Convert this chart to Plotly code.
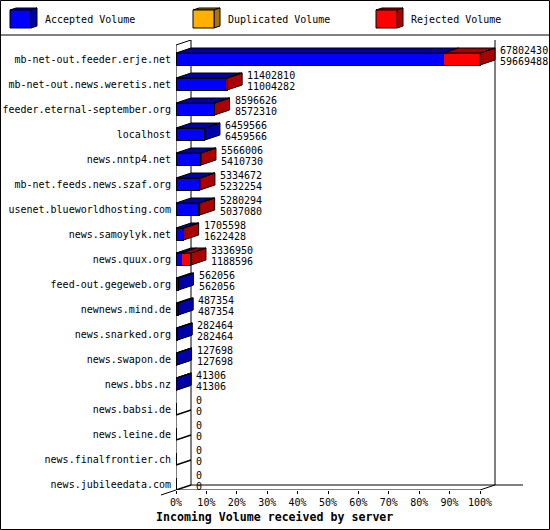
# Incoming volume per server, drawn as a fake 3D stacked bar chart.

import plotly.graph_objects as go

# %%
# Data

servers = [
    "mb-net-out.feeder.erje.net", "mb-net-out.news.weretis.net",
    "feeder.eternal-september.org", "localhost", "news.nntp4.net",
    "mb-net.feeds.news.szaf.org", "usenet.blueworldhosting.com",
    "news.samoylyk.net", "news.quux.org", "feed-out.gegeweb.org",
    "newnews.mind.de", "news.snarked.org", "news.swapon.de", "news.bbs.nz",
    "news.babsi.de", "news.leine.de", "news.finalfrontier.ch",
    "news.jubileedata.com",
]
offered = [
    67802430, 11402810, 8596626, 6459566, 5566006, 5334672, 5280294, 1705598,
    3336950, 562056, 487354, 282464, 127698, 41306, 0, 0, 0, 0,
]
accepted = [
    59669488, 11004282, 8572310, 6459566, 5410730, 5232254, 5037080, 1622428,
    1188596, 562056, 487354, 282464, 127698, 41306, 0, 0, 0, 0,
]
percent_ticks = list(range(0, 101, 10))
legend_names = ["Accepted Volume", "Duplicated Volume", "Rejected Volume"]
chart_title = "Incoming Volume received by server"

# %%
# Geometry, in page pixels

LEFT, RIGHT, TOP, BOTTOM = 176, 523, 40, 490
PX_PER_PCT = 3.04
ROW_PX = 25
DEPTH_X = 15 / PX_PER_PCT  # depth of the 3D look, in axis units
DEPTH_Y = 5 / ROW_PX
BAR_WIDTH = 12 / ROW_PX

BLUE, DARK_BLUE = "#0000ff", "#0000aa"
RED, DARK_RED = "#ff0000", "#aa0000"
ORANGE, DARK_ORANGE = "#ffb000", "#aa7500"
MONO = "DejaVu Sans Mono"


def px(x):
    return (x - LEFT) / (RIGHT - LEFT)


def py(y):
    return (BOTTOM - y) / (BOTTOM - TOP)


def line(x0, y0, x1, y1):
    return dict(type="line", xref="paper", yref="paper", x0=px(x0), y0=py(y0),
                x1=px(x1), y1=py(y1), line=dict(color="black", width=1),
                layer="below")


def wall(x0, y0, x1, y1):
    # same as line() but on the axes, so that it sits right under the bars
    return dict(type="line", xref="x", yref="y",
                x0=(x0 - LEFT) / PX_PER_PCT, y0=(y0 - 59) / ROW_PX,
                x1=(x1 - LEFT) / PX_PER_PCT, y1=(y1 - 59) / ROW_PX,
                line=dict(color="black", width=1), layer="below")


def face(x0, y0, x1, y1, color):
    return dict(type="rect", xref="paper", yref="paper", x0=px(x0), y0=py(y0),
                x1=px(x1), y1=py(y1), fillcolor=color,
                line=dict(color="black", width=1), layer="below")


def poly(xs, ys, color):
    return dict(type="path", xref="paper", yref="paper", fillcolor=color,
                line=dict(color="black", width=1), layer="below",
                path="M" + " L".join(f"{px(a)},{py(b)}" for a, b in zip(xs, ys)) + " Z")


# %%
# Bars: front faces are real stacked bars, top and side faces follow the values

top_max = max(offered)
acc_pct = [a / top_max * 100 for a in accepted]
rej_pct = [(o - a) / top_max * 100 for o, a in zip(offered, accepted)]
rows = list(range(len(servers)))

polys = {DARK_BLUE: ([], []), DARK_RED: ([], [])}


def add_poly(color, xs, ys):
    polys[color][0].extend(xs + [xs[0], None])
    polys[color][1].extend(ys + [ys[0], None])


half = BAR_WIDTH / 2
slant_x, slant_y = [], []
for i in rows:
    a, r = acc_pct[i], rej_pct[i]
    end = a + r
    # wall line under the row, only the part the bar does not hide
    if end < DEPTH_X:
        slant_x.extend([end, DEPTH_X, None])
        slant_y.extend([i + half - end / DEPTH_X * DEPTH_Y, i + half - DEPTH_Y, None])
    if end == 0:
        continue
    t = i - half
    b = i + half
    # top faces
    add_poly(DARK_BLUE, [0, a, a + DEPTH_X, DEPTH_X],
             [t, t, t - DEPTH_Y, t - DEPTH_Y])
    if r > 0:
        add_poly(DARK_RED, [a, a + r, a + r + DEPTH_X, a + DEPTH_X],
                 [t, t, t - DEPTH_Y, t - DEPTH_Y])
    # side face
    add_poly(DARK_RED if r > 0 else DARK_BLUE,
             [end, end + DEPTH_X, end + DEPTH_X, end],
             [t, t - DEPTH_Y, b - DEPTH_Y, b])

trace_list = [
    go.Bar(y=rows, x=acc_pct, orientation="h", width=BAR_WIDTH, marker_color=BLUE,
           marker_line=dict(color="black", width=1), name=legend_names[0]),
    go.Bar(y=rows, x=rej_pct, orientation="h", width=BAR_WIDTH, marker_color=RED,
           marker_line=dict(color="black", width=1), name=legend_names[2]),
    go.Scatter(x=slant_x, y=slant_y, mode="lines", hoverinfo="skip", cliponaxis=False,
               connectgaps=False, line=dict(color="black", width=1.5)),
]
for color, (xs, ys) in polys.items():
    trace_list.append(go.Scatter(x=xs, y=ys, mode="lines", fill="toself",
                                 fillcolor=color, hoverinfo="skip",
                                 line=dict(color="black", width=1)))

# %%
# Walls, floor, legend strip and frame

shapes = [
    wall(176, 45, 176, 490), wall(191, 40, 191, 485), wall(495, 40, 495, 485),
    wall(176, 45, 191, 40), line(161, 495, 176, 490), wall(176, 490, 480, 490),
    wall(191, 485, 523, 485), wall(480, 490, 495, 485),
    line(0, 35, 550, 35),
    dict(type="rect", xref="paper", yref="paper", x0=px(0.5), y0=py(0.5),
         x1=px(549.5), y1=py(529.5), line=dict(color="black", width=1), layer="below"),
]

legend_items = [(10, BLUE, DARK_BLUE), (193, ORANGE, DARK_ORANGE), (376, RED, DARK_RED)]
annotations = []
for (x0, color, dark), name in zip(legend_items, legend_names):
    shapes.append(poly([x0, x0 + 6, x0 + 27, x0 + 21], [10, 8, 8, 10], dark))
    shapes.append(poly([x0 + 21, x0 + 27, x0 + 27, x0 + 21], [10, 8, 26, 28], dark))
    shapes.append(face(x0, 10, x0 + 21, 28, color))
    annotations.append(dict(xref="paper", yref="paper", x=px(x0 + 33), y=py(20),
                            text=name, showarrow=False, xanchor="left", yanchor="middle",
                            font=dict(family=MONO, size=10, color="black")))

annotations.append(dict(xref="paper", yref="paper", x=px(274), y=py(517),
                        text=f"<b>{chart_title}</b>", showarrow=False,
                        xanchor="center", yanchor="middle",
                        font=dict(family=MONO, size=11.6, color="black")))

# two value labels per row, next to the end of the bar
for i in rows:
    end = (acc_pct[i] + rej_pct[i]) + DEPTH_X
    for val, dy in ((offered[i], -9), (accepted[i], 2)):
        annotations.append(dict(x=end, y=i, text=str(val), showarrow=False,
                                xanchor="left", yanchor="middle", xshift=3, yshift=-dy,
                                font=dict(family=MONO, size=10, color="black")))

# %%
# Layout

layout = go.Layout(
    width=550, height=530,
    margin=dict(l=LEFT, r=550 - RIGHT, t=TOP, b=530 - BOTTOM, autoexpand=False),
    paper_bgcolor="white", plot_bgcolor="white",
    barmode="stack", showlegend=False,
    font=dict(family=MONO, size=10, color="black"),
    xaxis=dict(range=[0, (RIGHT - LEFT) / PX_PER_PCT], tickvals=percent_ticks,
               ticktext=[f"{p}%" for p in percent_ticks], ticks="outside", ticklen=3,
               tickcolor="black", showgrid=False, zeroline=False, showline=False,
               tickangle=0),
    yaxis=dict(range=[(BOTTOM - 59) / ROW_PX, (TOP - 59) / ROW_PX], tickvals=rows,
               ticktext=servers, ticks="outside", ticklen=2, tickcolor="rgba(0,0,0,0)",
               showgrid=False, zeroline=False, showline=False),
    shapes=shapes, annotations=annotations,
)

fig = go.Figure(data=trace_list, layout=layout)
# the default body margin would push the chart off the window
fig.write_html("out.html", post_script="document.body.style.margin = '0';",
               config=dict(displayModeBar=False))
